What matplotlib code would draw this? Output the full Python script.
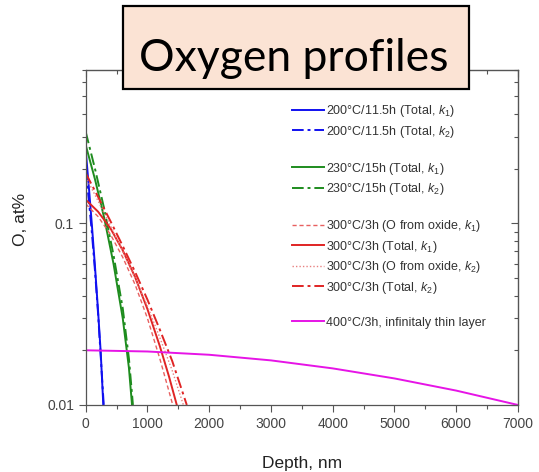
import numpy as np
import matplotlib
matplotlib.use('Agg')
from matplotlib import pyplot as plt
from matplotlib.lines import Line2D
from matplotlib.patches import Rectangle
from matplotlib.ticker import FixedLocator, NullFormatter

plt.rcParams['font.family'] = ['Liberation Sans', 'DejaVu Sans']
plt.rcParams['mathtext.fontset'] = 'custom'
plt.rcParams['mathtext.rm'] = 'Liberation Sans'
plt.rcParams['mathtext.it'] = 'Liberation Sans:italic'

# depth (nm) / oxygen (at%) pairs for each profile
d_200_k1 = [0, 50, 100, 150, 200, 243, 285]
c_200_k1 = [0.253, 0.160, 0.098, 0.058, 0.033, 0.0195, 0.010]
d_200_k2 = [0, 50, 100, 150, 200, 250, 292]
c_200_k2 = [0.196, 0.135, 0.089, 0.055, 0.032, 0.017, 0.010]

d_230_k1 = [0, 150, 300, 450, 600, 700, 750]
c_230_k1 = [0.270, 0.175, 0.107, 0.060, 0.030, 0.016, 0.010]
d_230_k2 = [0, 150, 300, 450, 600, 700, 765]
c_230_k2 = [0.319, 0.200, 0.120, 0.067, 0.034, 0.018, 0.010]

d_300_ox_k1 = [0, 200, 400, 600, 800, 1000, 1200, 1410]
c_300_ox_k1 = [0.128, 0.109, 0.087, 0.065, 0.046, 0.030, 0.018, 0.010]
d_300_tot_k1 = [0, 200, 400, 600, 800, 1000, 1200, 1350, 1475]
c_300_tot_k1 = [0.135, 0.116, 0.094, 0.071, 0.0506, 0.0337, 0.0211, 0.0143, 0.010]
d_300_ox_k2 = [0, 200, 400, 600, 800, 1000, 1200, 1400, 1582]
c_300_ox_k2 = [0.180, 0.133, 0.097, 0.070, 0.050, 0.035, 0.0235, 0.0155, 0.010]
d_300_tot_k2 = [0, 200, 400, 600, 800, 1000, 1200, 1400, 1637]
c_300_tot_k2 = [0.189, 0.140, 0.103, 0.075, 0.054, 0.038, 0.026, 0.0175, 0.010]

d_400 = [0, 1000, 2000, 3000, 4000, 5000, 6000, 7000]
c_400 = [0.0200, 0.0197, 0.0189, 0.0176, 0.0159, 0.0140, 0.0120, 0.0100]

labels = ['200°C/11.5h (Total, $k_1$)', '200°C/11.5h (Total, $k_2$)',
          '230°C/15h (Total, $k_1$)', '230°C/15h (Total, $k_2$)',
          '300°C/3h (O from oxide, $k_1$)', '300°C/3h (Total, $k_1$)',
          '300°C/3h (O from oxide, $k_2$)', '300°C/3h (Total, $k_2$)',
          '400°C/3h, infinitaly thin layer']

y_minor = list(np.arange(0.02, 0.095, 0.01)) + list(np.arange(0.2, 0.75, 0.1))

dashdot = (0, (6, 2, 1.5, 2))
blue = '#1010f0'
green = '#1e8c1e'
red = '#e02424'

fig = plt.figure(figsize=(5.39, 4.72), dpi=100)
ax = fig.add_axes([0.159, 0.142, 0.802, 0.710])

lw = 1.4
h1, = ax.plot(d_200_k1, c_200_k1, color=blue, lw=lw, label=labels[0])
h2, = ax.plot(d_200_k2, c_200_k2, color=blue, lw=lw, ls=dashdot, label=labels[1])
h3, = ax.plot(d_230_k1, c_230_k1, color=green, lw=lw, label=labels[2])
h4, = ax.plot(d_230_k2, c_230_k2, color=green, lw=lw, ls=dashdot, label=labels[3])
h5, = ax.plot(d_300_ox_k1, c_300_ox_k1, color='#e86060', lw=1.0, ls=(0, (3, 2)), label=labels[4])
h6, = ax.plot(d_300_tot_k1, c_300_tot_k1, color=red, lw=lw, label=labels[5])
h7, = ax.plot(d_300_ox_k2, c_300_ox_k2, color='#e88080', lw=1.0, ls=(0, (1, 1.5)), label=labels[6])
h8, = ax.plot(d_300_tot_k2, c_300_tot_k2, color=red, lw=lw, ls=dashdot, label=labels[7])
h9, = ax.plot(d_400, c_400, color='#e614e6', lw=lw, label=labels[8])

ax.set_yscale('log')
ax.set_xlim(0, 7000)
ax.set_ylim(0.01, 0.7)

ax.set_xticks(np.arange(0, 7001, 1000))
ax.xaxis.set_minor_locator(FixedLocator(np.arange(500, 7000, 1000)))
ax.yaxis.set_major_locator(FixedLocator([0.01, 0.1]))
ax.yaxis.set_minor_locator(FixedLocator(y_minor))
ax.yaxis.set_minor_formatter(NullFormatter())
ax.set_yticklabels(['0.01', '0.1'])

ax.tick_params(which='both', direction='out', colors='#555555', labelcolor='#444444',
               labelsize=10, width=0.8)
ax.tick_params(which='major', length=5)
ax.tick_params(which='minor', length=3)
for s in ax.spines.values():
    s.set_color('#555555')
    s.set_linewidth(0.9)

# inward ticks on top and right edges
ax_top = ax.secondary_xaxis('top')
ax_top.set_xticks(np.arange(0, 7001, 1000))
ax_top.xaxis.set_minor_locator(FixedLocator(np.arange(500, 7000, 1000)))
ax_top.tick_params(which='both', direction='in', colors='#555555', labeltop=False, width=0.8)
ax_top.tick_params(which='major', length=5)
ax_top.tick_params(which='minor', length=3)
ax_r = ax.secondary_yaxis('right')
ax_r.yaxis.set_major_locator(FixedLocator([0.01, 0.1]))
ax_r.yaxis.set_minor_locator(FixedLocator(y_minor))
ax_r.yaxis.set_minor_formatter(NullFormatter())
ax_r.tick_params(which='both', direction='in', colors='#555555', labelright=False, width=0.8)
ax_r.tick_params(which='major', length=5)
ax_r.tick_params(which='minor', length=3)

ax.set_xlabel('Depth, nm', fontsize=12.5, color='#222222', va='top')
ax.xaxis.set_label_coords(0.5, -0.152)
ax.set_ylabel('O, at%', fontsize=12.5, color='#222222')
ax.yaxis.set_label_coords(-0.133, 0.555)

blank = Line2D([], [], color='none', label=' ')
handles = [h1, h2, blank, h3, h4, blank, h5, h6, h7, h8, blank, h9]
leg = ax.legend(handles=handles, loc='upper left', bbox_to_anchor=(0.465, 0.915),
                frameon=False, fontsize=9, handlelength=2.56, handletextpad=0.15,
                labelspacing=0.36, borderaxespad=0)
for t in leg.get_texts():
    t.set_color('#333333')

# title box over the top of the plot
fig.patches.append(Rectangle((0.2275, 0.8114), 0.6427, 0.1758, transform=fig.transFigure,
                             facecolor='#fbe3d4', edgecolor='black', linewidth=1.6, zorder=5))
fig.text(0.545, 0.85, 'Oxygen profiles', fontsize=32, family='Lato', ha='center',
         va='baseline', color='black', zorder=6)

fig.savefig('out.png', dpi=100)
